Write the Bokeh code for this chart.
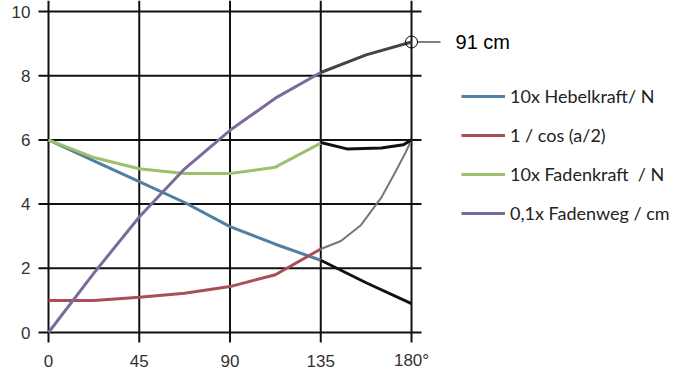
from bokeh.plotting import figure
from bokeh.models import Range1d, Legend, LegendItem, Label
from bokeh.core.properties import value
from bokeh.embed import file_html
from bokeh.resources import INLINE

# ---- data ----
angles = [0, 22.5, 45, 67.5, 90, 112.5, 135]
hebel = [6.0, 5.35, 4.7, 4.05, 3.3, 2.75, 2.25]
inv_cos = [1.0, 1.0, 1.1, 1.22, 1.43, 1.8, 2.6]
faden = [6.0, 5.45, 5.1, 4.95, 4.95, 5.15, 5.9]
weg = [0.0, 1.85, 3.6, 5.1, 6.3, 7.3, 8.1]

hebel_ext_x = [135, 157.5, 180]
hebel_ext = [2.25, 1.55, 0.9]
inv_cos_ext_x = [135, 145, 155, 165, 172, 177, 180]
inv_cos_ext = [2.6, 2.85, 3.35, 4.2, 5.0, 5.6, 6.0]
faden_ext_x = [135, 148, 165, 176, 180]
faden_ext = [5.92, 5.72, 5.75, 5.85, 6.0]
weg_ext_x = [135, 157.5, 180]
weg_ext = [8.1, 8.65, 9.05]

x_ticks = [0, 45, 90, 135, 180]
x_tick_labels = ["0", "45", "90", "135", "180°"]
y_ticks = [0, 2, 4, 6, 8, 10]
y_tick_labels = ["0", "2", "4", "6", "8", "10"]

labels = ["10x Hebelkraft/ N", "1 / cos (a/2)", "10x Fadenkraft  / N", "0,1x Fadenweg / cm"]
colors = ["#4f7fa3", "#a84f58", "#9fc06a", "#7d6a9c"]
note_text = "91 cm"

# ---- layout (px -> data) ----
PX_X = 2.0167   # px per degree
PX_Y = 32.1     # px per unit
X0, Y0 = 48, 332.0   # pixel position of (0, 0) inside the figure
W, H = 695, 375
xr = Range1d(-X0 / PX_X, (W - X0) / PX_X)
yr = Range1d(-(H - Y0) / PX_Y, Y0 / PX_Y)

p = figure(width=W, height=H, output_backend="svg", toolbar_location=None,
           x_range=xr, y_range=yr, x_axis_location=None, y_axis_location=None,
           min_border=0)
p.outline_line_color = None
p.xgrid.visible = False
p.ygrid.visible = False
p.background_fill_color = "white"

ext_x = 10 / PX_X
ext_y = 10 / PX_Y
GRID = "#111111"
# grid lines (with small outward extensions like tick marks)
p.segment(x0=[-ext_x] * len(y_ticks), x1=[180 + ext_x] * len(y_ticks), y0=y_ticks, y1=y_ticks,
          line_color=GRID, line_width=2)
p.segment(x0=x_ticks, x1=x_ticks, y0=[-ext_y] * len(x_ticks), y1=[yr.end] * len(x_ticks),
          line_color=GRID, line_width=2)

# tick labels
p.text(x=[-18 / PX_X] * len(y_ticks), y=y_ticks, text=y_tick_labels,
       text_align="right", text_baseline="middle",
       text_font=value("Liberation Sans"), text_font_size="17px", text_color="#333333")
p.text(x=x_ticks, y=[-28 / PX_Y] * len(x_ticks), text=x_tick_labels,
       text_align="center", text_baseline="middle",
       text_font=value("Liberation Sans"), text_font_size="17px", text_color="#333333")

# series
lw = 3
r1 = p.line(angles, hebel, line_color=colors[0], line_width=lw)
r2 = p.line(angles, inv_cos, line_color=colors[1], line_width=lw)
r3 = p.line(angles, faden, line_color=colors[2], line_width=lw)
r4 = p.line(angles, weg, line_color=colors[3], line_width=lw)

p.line(hebel_ext_x, hebel_ext, line_color="#111111", line_width=3)
p.line(inv_cos_ext_x, inv_cos_ext, line_color="#777777", line_width=2)
p.line(faden_ext_x, faden_ext, line_color="#111111", line_width=3)
p.line(weg_ext_x, weg_ext, line_color="#444444", line_width=3)

# annotation
p.scatter([weg_ext_x[-1]], [weg_ext[-1]], size=12, fill_color=None, line_color="black", line_width=1)
p.segment(x0=[weg_ext_x[-1] + 6 / PX_X], x1=[weg_ext_x[-1] + 29 / PX_X],
          y0=[weg_ext[-1]], y1=[weg_ext[-1]], line_color="black", line_width=1)
p.add_layout(Label(x=weg_ext_x[-1] + 44 / PX_X, y=weg_ext[-1], text=note_text, text_baseline="middle",
                   text_font="Liberation Sans", text_font_size="20px", text_color="black"))

legend = Legend(items=[LegendItem(label=l, renderers=[r]) for l, r in zip(labels, [r1, r2, r3, r4])],
                location=(461, 151), padding=0, margin=0, spacing=17,
                glyph_width=44, glyph_height=22, label_height=22, label_standoff=5,
                label_text_font="Lato", label_text_font_size="18px", label_text_color="#222222",
                border_line_color=None, background_fill_alpha=0)
p.add_layout(legend)

open("out.html", "w").write(file_html(p, INLINE))
